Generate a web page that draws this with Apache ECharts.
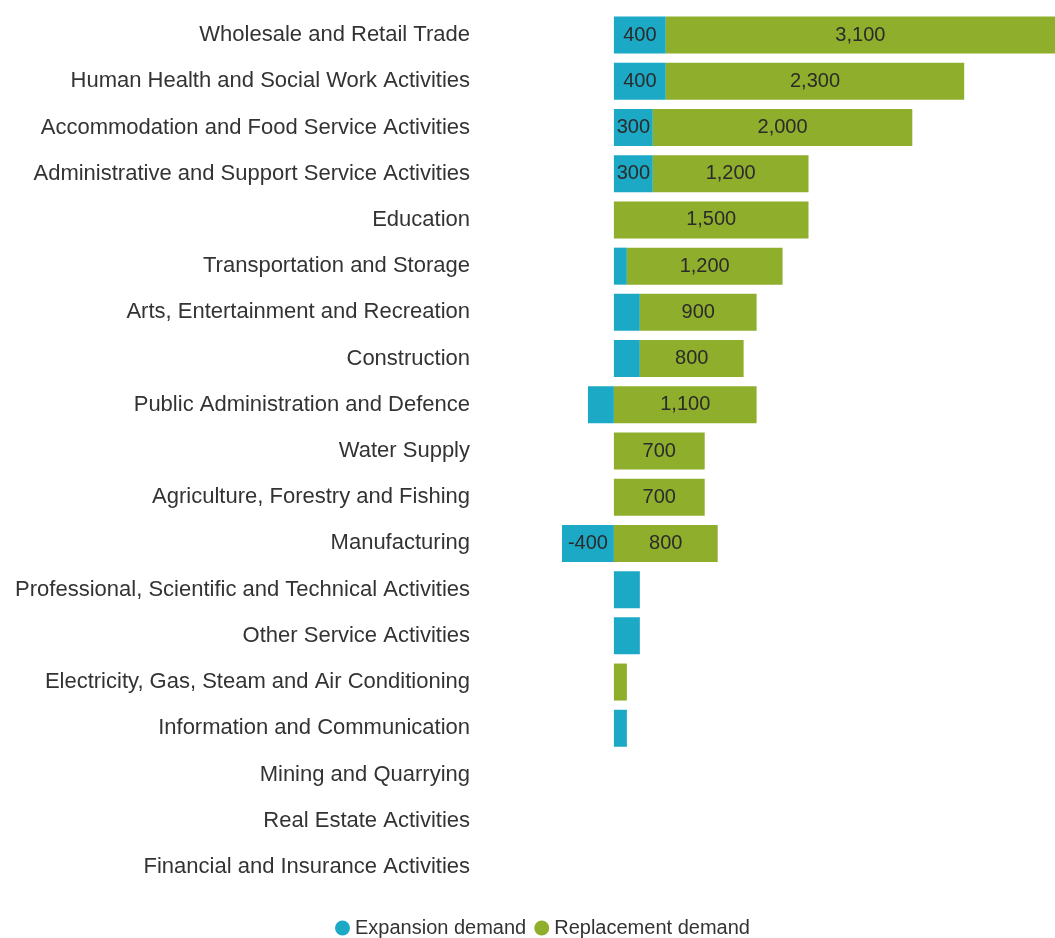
<!DOCTYPE html>
<html>
<head>
<meta charset="utf-8">
<script src="https://cdn.jsdelivr.net/npm/echarts@6/dist/echarts.min.js"></script>
<style>
html,body{margin:0;padding:0;background:#fff;}
#c{width:1055px;height:938px;}
</style>
</head>
<body>
<div id="c"></div>
<script>
const categories = [
  "Wholesale and Retail Trade",
  "Human Health and Social Work Activities",
  "Accommodation and Food Service Activities",
  "Administrative and Support Service Activities",
  "Education",
  "Transportation and Storage",
  "Arts, Entertainment and Recreation",
  "Construction",
  "Public Administration and Defence",
  "Water Supply",
  "Agriculture, Forestry and Fishing",
  "Manufacturing",
  "Professional, Scientific and Technical Activities",
  "Other Service Activities",
  "Electricity, Gas, Steam and Air Conditioning",
  "Information and Communication",
  "Mining and Quarrying",
  "Real Estate Activities",
  "Financial and Insurance Activities"
];
const expansionDemand = [400, 400, 300, 300, 0, 100, 200, 200, -200, 0, 0, -400, 200, 200, 0, 100, 0, 0, 0];
const replacementDemand = [3100, 2300, 2000, 1200, 1500, 1200, 900, 800, 1100, 700, 700, 800, 0, 0, 100, 0, 0, 0, 0];
const seriesNames = ["Expansion demand", "Replacement demand"];

const FONT = 'Liberation Sans, Arial, sans-serif';
const fmt = v => (Math.abs(v) >= 300 ? v.toLocaleString('en-US') : '');
const labelCfg = {
  show: true,
  position: 'inside',
  color: '#2b2b2b',
  fontSize: 20,
  fontFamily: FONT,
  formatter: p => fmt(p.value)
};

const chart = echarts.init(document.getElementById('c'));
chart.setOption({
  animation: false,
  backgroundColor: '#fff',
  grid: { left: 562, right: 0, top: 12, bottom: 48, containLabel: false },
  xAxis: {
    type: 'value', min: -400, max: 3400,
    axisLabel: { show: false }, axisLine: { show: false },
    axisTick: { show: false }, splitLine: { show: false }
  },
  yAxis: {
    type: 'category', data: categories, inverse: true,
    axisLine: { show: false, onZero: false }, axisTick: { show: false },
    axisLabel: {
      margin: 92, color: '#333', fontSize: 22,
      fontFamily: FONT
    }
  },
  legend: {
    top: 913, left: 330, icon: 'circle', itemWidth: 15, itemHeight: 15, itemGap: 8,
    textStyle: { color: '#333', fontSize: 20, fontFamily: FONT },
    data: seriesNames
  },
  series: [
    {
      name: seriesNames[0], type: 'bar', stack: 'd', data: expansionDemand,
      barWidth: 37, itemStyle: { color: '#1ba9c6' }, label: labelCfg
    },
    {
      name: seriesNames[1], type: 'bar', stack: 'd', data: replacementDemand,
      barWidth: 37, itemStyle: { color: '#8eae2c' }, label: labelCfg
    }
  ]
});
</script>
</body>
</html>
